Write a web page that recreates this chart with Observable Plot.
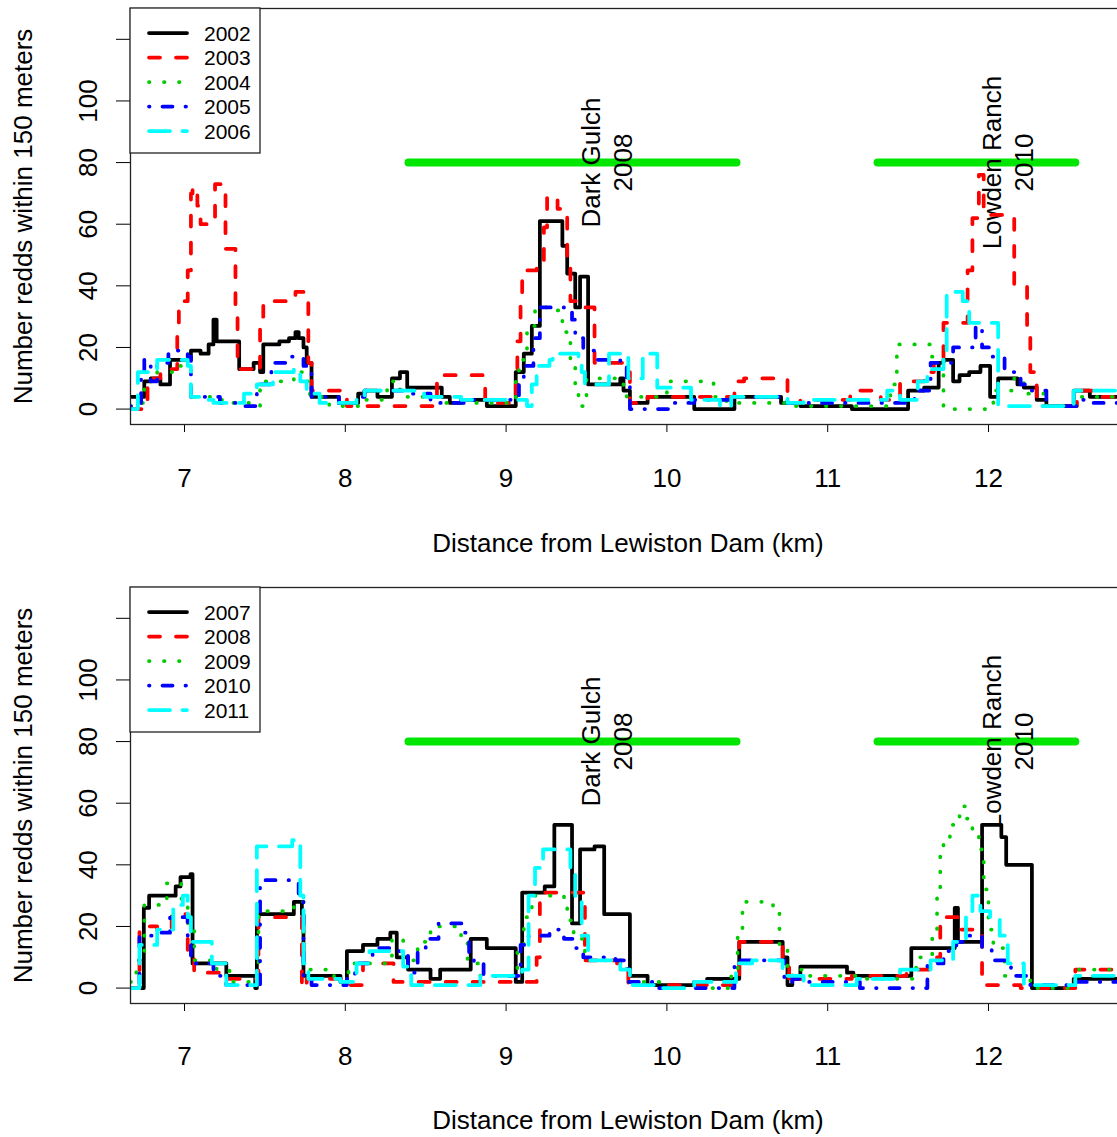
<!DOCTYPE html>
<html>
<head>
<meta charset="utf-8">
<script src="https://cdn.jsdelivr.net/npm/d3@7"></script>
<script src="https://cdn.jsdelivr.net/npm/@observablehq/plot@0.6"></script>
<style>
html, body { margin: 0; padding: 0; background: #fff; overflow: hidden; }
#wrap { width: 1117px; height: 1137px; overflow: hidden; position: relative; background: #fff; }
.panel { position: relative; width: 1117px; overflow: hidden; }
#wrap svg { max-width: none !important; display: block; }
</style>
</head>
<body>
<div id="wrap"></div>
<script>
// ---------- data ----------
const kmTicks = [7, 8, 9, 10, 11, 12];
const countTicks = [0, 20, 40, 60, 80, 100, 120];
const countLabels = [0, 20, 40, 60, 80, 100];
const xTitle = "Distance from Lewiston Dam (km)";
const yTitle = "Number redds within 150 meters";

const topYears = ["2002", "2003", "2004", "2005", "2006"];
const bottomYears = ["2007", "2008", "2009", "2010", "2011"];

const projectNames = ["Dark Gulch\n2008", "Lowden Ranch\n2010"];
const projectStart = [8.393, 11.31];
const projectEnd = [10.433, 12.54];
const projectLabelKm = [9.618, 12.112];
const projectLevel = 80;

// [km, redds] step breakpoints
const r2002 = [[6.664,4],[6.75,9],[6.79,10],[6.85,8],[6.91,16],[7.04,19],[7.10,18],[7.15,21],[7.18,29],[7.20,22],[7.34,13],[7.43,15],[7.47,12],[7.49,21],[7.59,22],[7.65,23],[7.69,25],[7.71,23],[7.74,20],[7.76,15],[7.79,4],[7.96,2],[8.08,5],[8.12,6],[8.20,4],[8.29,10],[8.34,12],[8.385,7],[8.60,4],[8.65,2],[8.72,3],[8.88,1],[9.06,12],[9.11,18],[9.16,27],[9.21,61],[9.35,53],[9.38,44],[9.43,33],[9.46,43],[9.51,8],[9.71,10],[9.73,6],[9.77,2],[9.88,4],[10.17,0],[10.42,4],[10.71,2],[10.83,1],[11.15,0],[11.50,6],[11.60,7],[11.69,15],[11.72,16],[11.78,9],[11.82,11],[11.88,12],[11.95,14],[12.01,4],[12.06,10],[12.18,8],[12.22,7],[12.30,3],[12.36,1],[12.53,6],[12.63,4],[12.86,4]];
const r2003 = [[6.664,0],[6.77,10],[6.85,13],[6.955,25],[6.965,35],[7.02,45],[7.04,70],[7.05,72],[7.08,66],[7.10,60],[7.19,73],[7.255,52],[7.317,30],[7.33,13],[7.45,12],[7.47,30],[7.49,35],[7.69,38],[7.77,15],[7.79,6],[7.97,6],[8.01,1],[8.57,11],[8.87,2],[9.06,8],[9.07,22],[9.09,35],[9.10,45],[9.19,48],[9.235,59],[9.255,69],[9.32,65],[9.38,48],[9.40,35],[9.48,33],[9.55,15],[9.62,15],[9.75,12],[9.77,2],[9.88,4],[10.16,4],[10.42,9],[10.48,10],[10.58,10],[10.75,2],[10.83,3],[11.14,6],[11.33,3],[11.45,9],[11.60,12],[11.66,15],[11.72,28],[11.87,45],[11.90,62],[11.94,76],[11.97,63],[12.16,40],[12.24,27],[12.26,12],[12.30,1],[12.55,6],[12.68,4],[12.86,4]];
const r2004 = [[6.664,1],[6.71,2],[6.75,9],[6.83,12],[6.955,14],[7.04,4],[7.20,3],[7.29,2],[7.43,1],[7.47,9],[7.68,12],[7.74,9],[7.78,4],[7.90,1],[8.08,3],[8.26,9],[8.34,4],[8.60,2],[9.06,10],[9.08,16],[9.13,27],[9.18,33],[9.29,32],[9.35,28],[9.36,25],[9.40,15],[9.43,8],[9.45,1],[9.50,10],[9.61,10],[9.73,6],[9.75,4],[10.00,9],[10.29,4],[10.37,2],[10.77,1],[11.39,8],[11.43,21],[11.64,17],[11.72,0],[12.03,6],[12.16,10],[12.22,5],[12.36,1],[12.55,4],[12.86,4]];
const r2005 = [[6.664,1],[6.73,10],[6.75,16],[6.79,9],[6.83,15],[6.90,19],[7.02,17],[7.04,4],[7.22,2],[7.37,1],[7.45,8],[7.54,15],[7.66,17],[7.74,14],[7.79,4],[7.96,2],[8.08,4],[8.12,6],[8.26,6],[8.39,5],[8.53,2],[8.80,3],[9.08,8],[9.11,14],[9.17,23],[9.21,33],[9.36,32],[9.41,29],[9.43,23],[9.48,19],[9.55,16],[9.71,15],[9.75,8],[9.77,0],[10.04,2],[10.17,3],[10.42,4],[10.75,2],[11.15,2],[11.54,6],[11.64,15],[11.78,20],[11.92,27],[11.96,20],[12.01,17],[12.10,12],[12.20,8],[12.24,6],[12.36,1],[12.55,3],[12.63,2],[12.86,2]];
const r2006 = [[6.664,0],[6.71,12],[6.83,16],[7.02,14],[7.04,4],[7.11,3],[7.18,2],[7.37,5],[7.45,8],[7.55,12],[7.68,13],[7.72,9],[7.76,5],[7.84,2],[8.07,3],[8.12,6],[8.49,4],[8.72,3],[9.13,1],[9.16,8],[9.19,14],[9.27,16],[9.29,18],[9.45,15],[9.47,12],[9.49,8],[9.64,18],[9.76,10],[9.85,18],[9.94,7],[10.15,3],[10.33,1],[10.40,4],[10.75,2],[10.85,3],[11.37,6],[11.45,3],[11.56,9],[11.62,13],[11.72,19],[11.74,38],[11.84,35],[11.88,28],[12.06,1],[12.53,6],[12.86,6]];

const r2007 = [[6.664,0],[6.747,26],[6.78,30],[6.945,33],[6.975,36],[7.037,37],[7.05,8],[7.26,4],[7.44,0],[7.45,24],[7.68,28],[7.73,24],[7.74,4],[7.97,2],[8.01,12],[8.11,14],[8.20,16],[8.28,18],[8.32,10],[8.39,6],[8.53,3],[8.59,6],[8.78,16],[8.88,13],[9.06,2],[9.10,31],[9.24,33],[9.30,53],[9.41,21],[9.46,45],[9.55,46],[9.61,24],[9.77,4],[9.88,1],[10.17,2],[10.25,3],[10.45,15],[10.72,10],[10.75,1],[10.78,3],[10.83,7],[11.12,5],[11.16,4],[11.52,13],[11.79,26],[11.81,15],[11.96,53],[12.08,49],[12.11,40],[12.27,0],[12.53,3],[12.86,3]];
const r2008 = [[6.664,0],[6.72,20],[6.83,19],[6.92,24],[7.02,12],[7.06,5],[7.24,3],[7.46,23],[7.73,0],[7.76,3],[7.99,1],[8.11,8],[8.30,2],[9.19,10],[9.21,31],[9.49,9],[9.69,8],[9.76,1],[10.45,15],[10.72,8],[10.76,1],[10.78,3],[11.15,4],[11.49,6],[11.68,10],[11.70,23],[11.81,19],[11.96,1],[12.20,0],[12.54,6],[12.86,6]];
const r2009 = [[6.664,2],[6.70,9],[6.75,27],[6.86,28],[6.89,34],[6.98,29],[7.02,19],[7.06,9],[7.20,6],[7.28,2],[7.46,25],[7.68,28],[7.74,6],[7.93,2],[8.02,8],[8.29,16],[8.36,9],[8.45,15],[8.53,20],[8.72,16],[8.76,8],[8.84,4],[9.07,14],[9.11,23],[9.16,30],[9.36,28],[9.38,22],[9.42,16],[9.49,9],[9.75,2],[9.96,0],[10.40,6],[10.44,19],[10.47,28],[10.66,25],[10.70,14],[10.75,4],[10.78,6],[10.85,4],[11.18,3],[11.55,10],[11.65,19],[11.68,32],[11.70,44],[11.72,49],[11.76,53],[11.82,59],[11.86,55],[11.90,50],[11.94,45],[11.97,32],[12.00,19],[12.03,13],[12.10,4],[12.26,0],[12.54,6],[12.86,6]];
const r2010 = [[6.664,0],[6.72,17],[6.83,18],[6.91,23],[7.02,16],[7.04,8],[7.18,4],[7.26,1],[7.47,35],[7.71,30],[7.74,4],[7.79,1],[8.01,3],[8.06,8],[8.17,13],[8.32,12],[8.39,5],[8.45,12],[8.50,16],[8.58,21],[8.73,18],[8.77,10],[8.80,8],[8.86,4],[9.09,14],[9.14,17],[9.27,19],[9.36,16],[9.43,13],[9.48,10],[9.68,9],[9.76,2],[9.95,0],[10.42,8],[10.46,9],[10.73,2],[10.78,3],[10.87,2],[11.20,0],[11.62,8],[11.72,12],[11.80,15],[11.84,17],[11.96,13],[12.02,9],[12.14,4],[12.26,1],[12.54,2],[12.86,2]];
const r2011 = [[6.664,0],[6.72,14],[6.83,19],[6.93,27],[6.99,30],[7.02,23],[7.04,15],[7.17,8],[7.26,1],[7.45,46],[7.67,48],[7.72,30],[7.74,8],[7.77,3],[7.97,2],[8.07,8],[8.15,12],[8.36,7],[8.41,1],[8.84,4],[9.10,6],[9.14,30],[9.18,39],[9.23,45],[9.40,39],[9.43,28],[9.47,17],[9.51,9],[9.71,6],[9.77,1],[9.96,0],[10.17,2],[10.43,8],[10.53,9],[10.72,4],[10.85,1],[11.18,3],[11.45,6],[11.64,9],[11.78,15],[11.86,25],[11.90,30],[11.95,25],[12.01,23],[12.07,17],[12.12,8],[12.22,1],[12.54,4],[12.86,4]];

const topSeries = [r2002, r2003, r2004, r2005, r2006];
const bottomSeries = [r2007, r2008, r2009, r2010, r2011];

// ---------- styles ----------
const FONT = '"Liberation Sans", Arial, Helvetica, sans-serif';
const seriesColors = ["#000000", "#ff0000", "#00cd00", "#0000ff", "#00ffff"];
const seriesDash = [null, "11 16", "0.5 14.5", "0.5 13 10 13", "21 12.5"];
const lineWidth = 3.75;
const projectColor = "#00e600";

function makePanel(years, series, cfg) {
  const panel = document.createElement("div");
  panel.className = "panel";
  panel.style.height = cfg.height + "px";

  const idx = projectNames.map((_, i) => i);
  const marks = [
    Plot.link(idx, {
      x1: i => projectStart[i], x2: i => projectEnd[i],
      y1: () => projectLevel, y2: () => projectLevel,
      stroke: projectColor, strokeWidth: 8, strokeLinecap: "round"
    }),
    Plot.text(idx, {
      x: i => projectLabelKm[i], y: () => projectLevel,
      text: i => projectNames[i], rotate: -90, fontSize: 26,
      lineHeight: 1.25, fill: "#000", textAnchor: "middle", lineAnchor: "middle"
    })
  ];
  series.forEach((s, k) => {
    marks.push(Plot.line(s, {
      x: d => d[0], y: d => d[1], curve: "step-after",
      stroke: seriesColors[k], strokeWidth: lineWidth,
      strokeDasharray: seriesDash[k] || undefined,
      strokeLinecap: "round", strokeLinejoin: "round", clip: true
    }));
  });
  marks.push(
    Plot.text(countLabels, {
      y: d => d, text: d => String(d), frameAnchor: "left", dx: -42,
      rotate: -90, fontSize: 26, fill: "#000", textAnchor: "middle", lineAnchor: "middle"
    }),
    Plot.text([yTitle], {
      text: d => d, frameAnchor: "left", dx: -107, rotate: -90,
      fontSize: 26, fill: "#000", textAnchor: "middle", lineAnchor: "middle"
    }),
    Plot.text([xTitle], {
      text: d => d, frameAnchor: "bottom", dy: cfg.titleDy,
      fontSize: 26, fill: "#000", textAnchor: "middle", lineAnchor: "middle"
    }),
    Plot.frame({stroke: "#222", strokeWidth: 1.3})
  );

  const chart = Plot.plot({
    width: 1125,
    height: cfg.height,
    marginLeft: 130,
    marginRight: 0,
    marginTop: cfg.top,
    marginBottom: cfg.bottom,
    style: {fontFamily: FONT, fontSize: "26px", color: "#000", background: "#fff"},
    x: {domain: [6.6642, 12.852], ticks: kmTicks, tickSize: 8, tickPadding: cfg.tickPad, tickFormat: d => String(d), label: null},
    y: {domain: [-5, 130], ticks: countTicks, tickSize: 14, tickFormat: () => "", label: null},
    marks
  });
  panel.appendChild(chart);

  // legend inside the plot area, top-left
  const lg = d3.create("svg")
    .attr("width", 133).attr("height", 148)
    .style("position", "absolute")
    .style("left", "129px").style("top", (cfg.top - 1) + "px");
  lg.append("rect")
    .attr("x", 1).attr("y", 1).attr("width", 130).attr("height", 145)
    .attr("fill", "#fff").attr("stroke", "#222").attr("stroke-width", 1.3);
  years.forEach((yr, k) => {
    const yy = 26 + k * 24.5;
    lg.append("line")
      .attr("x1", 20).attr("x2", 58).attr("y1", yy).attr("y2", yy)
      .attr("stroke", seriesColors[k]).attr("stroke-width", lineWidth)
      .attr("stroke-linecap", "round")
      .attr("stroke-dasharray", seriesDash[k]);
    lg.append("text")
      .attr("x", 75).attr("y", yy).attr("dy", "0.36em")
      .attr("font-family", FONT).attr("font-size", 21).attr("fill", "#000")
      .text(yr);
  });
  panel.appendChild(lg.node());
  return panel;
}

const wrap = document.getElementById("wrap");
wrap.appendChild(makePanel(topYears, topSeries, {height: 565, top: 8, bottom: 141, tickPad: 36, titleDy: 119}));
wrap.appendChild(makePanel(bottomYears, bottomSeries, {height: 572, top: 22, bottom: 134, tickPad: 35, titleDy: 117}));
</script>
</body>
</html>
